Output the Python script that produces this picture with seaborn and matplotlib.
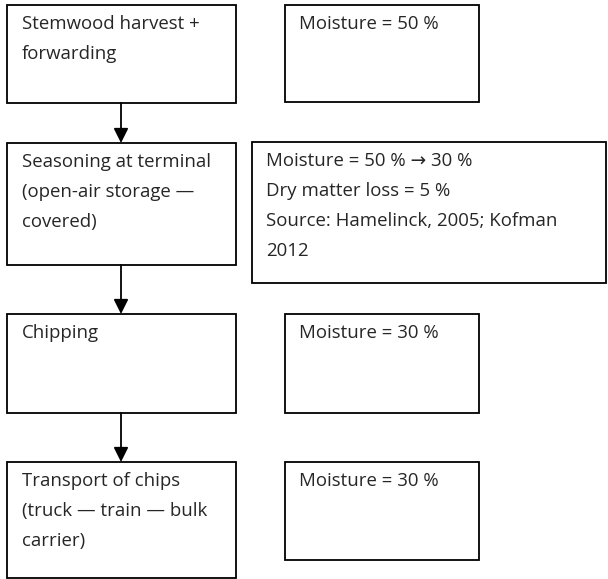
import matplotlib
matplotlib.use("Agg")
import matplotlib.pyplot as plt
from matplotlib.patches import Rectangle
import seaborn as sns

# Texte des étapes (colonne gauche) et des remarques (colonne droite)
etapes = [
    "Stemwood harvest +\nforwarding",
    "Seasoning at terminal\n(open-air storage —\ncovered)",
    "Chipping",
    "Transport of chips\n(truck — train — bulk\ncarrier)",
]
remarques = [
    "Moisture = 50 %",
    "Moisture = 50 % \u2192 30 %\nDry matter loss = 5 %\nSource: Hamelinck, 2005; Kofman\n2012",
    "Moisture = 30 %",
    "Moisture = 30 %",
]

sns.set_style("white")
plt.rcParams["font.family"] = ["Open Sans", "DejaVu Sans"]

fig = plt.figure(figsize=(6.08, 5.79), dpi=100)
ax = fig.add_axes([0, 0, 1, 1])
ax.set_xlim(0, 608)
ax.set_ylim(579, 0)
ax.axis("off")

# boites gauche : (haut, bas)
gauche_y = [(5, 103), (143, 265), (314, 413), (462, 578)]
droite = [(285, 479, 5, 102), (252, 606, 142, 283), (285, 479, 314, 413), (285, 479, 462, 560)]

taille = 13.4
for (y0, y1), txt in zip(gauche_y, etapes):
    ax.add_patch(Rectangle((7, y0), 229, y1 - y0, fill=False, lw=1.3, ec="black"))
    ax.text(22, y0 + 10, txt, va="top", ha="left", fontsize=taille, linespacing=1.85)

for (x0, x1, y0, y1), txt in zip(droite, remarques):
    ax.add_patch(Rectangle((x0, y0), x1 - x0, y1 - y0, fill=False, lw=1.3, ec="black"))
    ax.text(x0 + 14, y0 + 10, txt, va="top", ha="left", fontsize=taille, linespacing=1.85)

# fleches entre les étapes
for (a0, a1), (b0, b1) in zip(gauche_y[:-1], gauche_y[1:]):
    ax.annotate("", xy=(121, b0), xytext=(121, a1),
                arrowprops=dict(arrowstyle="-|>", color="black", lw=1.3,
                                mutation_scale=22, shrinkA=0, shrinkB=0))

fig.savefig("out.png", dpi=100)
